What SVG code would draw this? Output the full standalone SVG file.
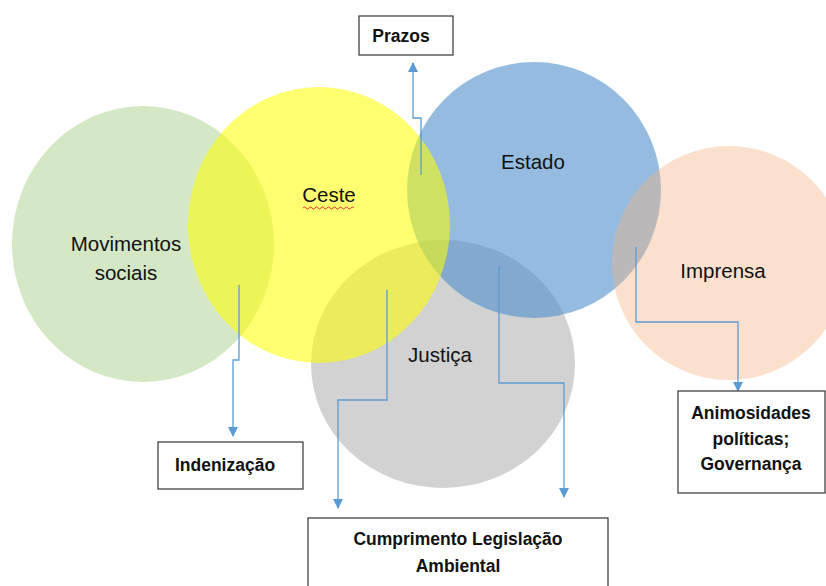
<svg xmlns="http://www.w3.org/2000/svg" width="826" height="586" viewBox="0 0 826 586">
<defs>
<marker id="ah" viewBox="0 0 10 10" refX="9" refY="5" markerWidth="10" markerHeight="10" markerUnits="userSpaceOnUse" orient="auto">
<path d="M0,0 L10,5 L0,10 Z" fill="#5b9bd5"/>
</marker>
<style>
.lbl{font-family:"Liberation Sans",Arial,sans-serif;font-size:20.5px;fill:#111;text-anchor:middle}
.box{fill:#fff;stroke:#333;stroke-width:1.2}
.bt{font-family:"Liberation Sans",Arial,sans-serif;font-size:17.5px;font-weight:bold;fill:#111;text-anchor:middle}
.con{fill:none;stroke:#5b9bd5;stroke-width:1.3;marker-end:url(#ah)}
</style>
</defs>
<rect width="826" height="586" fill="#fff"/>
<g id="movimentos">
<ellipse cx="143" cy="244" rx="131" ry="138" fill="#a9d18e" fill-opacity="0.5"/>
</g>
<g id="justica">
<ellipse cx="443" cy="364" rx="132" ry="124" fill="#a6a6a6" fill-opacity="0.5"/>
</g>
<g id="estado">
<ellipse cx="534" cy="190" rx="127" ry="128" fill="#4f8fcc" fill-opacity="0.6"/>
</g>
<g id="ceste">
<ellipse cx="319" cy="225" rx="131" ry="138" fill="#ffff00" fill-opacity="0.56"/>
</g>
<g id="imprensa">
<ellipse cx="729" cy="263" rx="117" ry="117" fill="#f4b183" fill-opacity="0.4"/>
</g>
<g id="labels">
<text class="lbl" x="126" y="251">Movimentos</text>
<text class="lbl" x="126" y="280">sociais</text>
<text class="lbl" x="329" y="202">Ceste</text>
<path d="M303,208 q1.5,-2 3,0 t3,0 t3,0 t3,0 t3,0 t3,0 t3,0 t3,0 t3,0 t3,0 t3,0 t3,0 t3,0 t3,0 t3,0 t3,0 t3,0" fill="none" stroke="#e03030" stroke-width="1"/>
<text class="lbl" x="440" y="362">Justiça</text>
<text class="lbl" x="533" y="169">Estado</text>
<text class="lbl" x="723" y="278">Imprensa</text>
</g>
<g id="connectors">
<path class="con" d="M421,175 V118 H413 V63"/>
<path class="con" d="M239,285 V360 H233 V436"/>
<path class="con" d="M387,290 V400 H338 V508"/>
<path class="con" d="M499,266 V383 H564 V497"/>
<path class="con" d="M636,247 V322 H738 V391"/>
</g>
<g id="prazos">
<rect class="box" x="359" y="16" width="94" height="39"/>
<text class="bt" x="401" y="42">Prazos</text>
</g>
<g id="indenizacao">
<rect class="box" x="158" y="442" width="145" height="47"/>
<text class="bt" x="225" y="471">Indenização</text>
</g>
<g id="cumprimento">
<rect class="box" x="308" y="518" width="300" height="72"/>
<text class="bt" x="458" y="545">Cumprimento Legislação</text>
<text class="bt" x="458" y="572">Ambiental</text>
</g>
<g id="animosidades">
<rect class="box" x="678" y="391" width="147" height="102"/>
<text class="bt" x="751" y="419">Animosidades</text>
<text class="bt" x="751" y="445">políticas;</text>
<text class="bt" x="751" y="470">Governança</text>
</g>
</svg>
